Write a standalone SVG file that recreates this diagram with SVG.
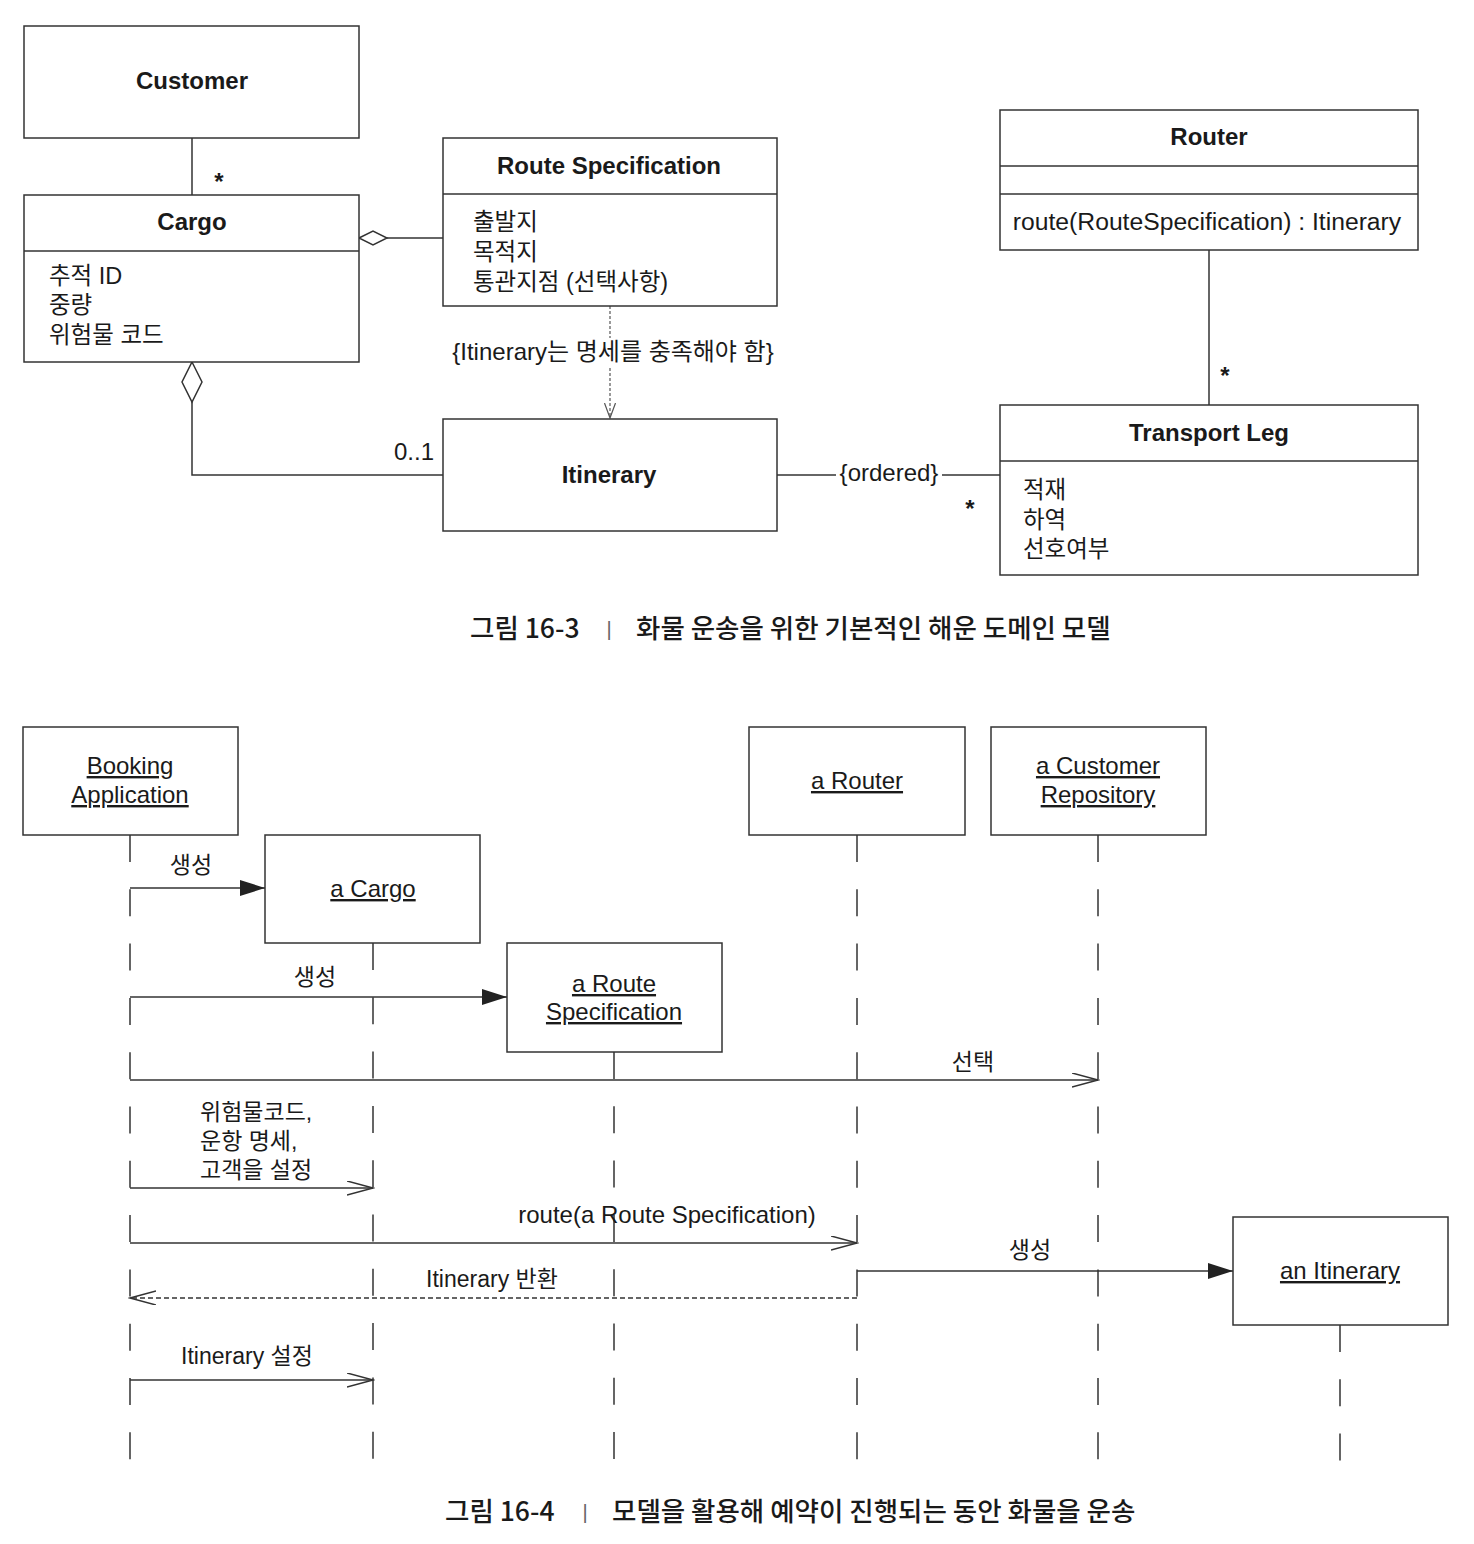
<svg xmlns="http://www.w3.org/2000/svg" width="1474" height="1544" viewBox="0 0 1474 1544">
<style>
  .box{fill:#fff;stroke:#333;stroke-width:1.5}
  .ln{fill:none;stroke:#333;stroke-width:1.5}
  .life{fill:none;stroke:#333;stroke-width:1.5;stroke-dasharray:27 27.3}
  .dash{fill:none;stroke:#333;stroke-width:1.3;stroke-dasharray:5 3}
  .dot{fill:none;stroke:#555;stroke-width:1.2;stroke-dasharray:3 2}
  text{font-family:"Liberation Sans","Noto Sans CJK KR",sans-serif;fill:#1a1a1a}
  .t{font-size:24px;font-weight:bold;text-anchor:middle}
  .a{font-size:23.5px}
  .m{font-size:24px}
  .k{font-size:23px}
  .c{text-anchor:middle}
  .u{text-decoration:underline}
  .cap{font-family:"Noto Sans CJK KR","Liberation Sans",sans-serif;font-size:26.5px;font-weight:500}
  .sep{font-family:"Liberation Sans",sans-serif;font-size:20px;fill:#666;text-anchor:middle}
</style>
<defs>
  <marker id="fill" markerUnits="userSpaceOnUse" markerWidth="26" markerHeight="18" refX="25" refY="8" orient="auto">
    <path d="M0,0 L25,8 L0,16 Z" fill="#222"/>
  </marker>
  <marker id="open" markerUnits="userSpaceOnUse" markerWidth="28" markerHeight="16" refX="26" refY="7" orient="auto">
    <path d="M0,0 L26,7 L0,14" fill="none" stroke="#333" stroke-width="1.5"/>
  </marker>
  <marker id="dep" markerUnits="userSpaceOnUse" markerWidth="17" markerHeight="12" refX="15" refY="5.5" orient="auto">
    <path d="M0,0 L15,5.5 L0,11" fill="none" stroke="#555" stroke-width="1.2"/>
  </marker>
</defs>

<!-- ===== Figure 16-3 ===== -->
<g id="connectors-class">
  <line class="ln" x1="192" y1="138" x2="192" y2="195"/>
  <text class="t" x="219" y="190">*</text>
  <path class="ln" d="M387,238 L443,238"/>
  <path class="box" d="M359,238 L373,231 L387,238 L373,245 Z"/>
  <path class="ln" d="M192,402 L192,475 L443,475"/>
  <path class="box" d="M192,362 L202,382 L192,402 L182,382 Z"/>
  <text class="m" x="434" y="460" text-anchor="end">0..1</text>
  <line class="dot" x1="610" y1="306" x2="610" y2="338"/>
  <line class="dot" x1="610" y1="368" x2="610" y2="418" marker-end="url(#dep)"/>
  <text class="c" x="613" y="360" style="font-size:24px">{Itinerary는 명세를 충족해야 함}</text>
  <line class="ln" x1="777" y1="475" x2="836" y2="475"/>
  <line class="ln" x1="942" y1="475" x2="1000" y2="475"/>
  <text class="m c" x="889" y="481">{ordered}</text>
  <text class="t" x="970" y="517">*</text>
  <line class="ln" x1="1209" y1="250" x2="1209" y2="405"/>
  <text class="t" x="1225" y="384">*</text>
</g>

<g id="customer">
  <rect class="box" x="24" y="26" width="335" height="112"/>
  <text class="t" x="192" y="89">Customer</text>
</g>
<g id="cargo">
  <rect class="box" x="24" y="195" width="335" height="167"/>
  <line class="ln" x1="24" y1="251" x2="359" y2="251"/>
  <text class="t" x="192" y="230">Cargo</text>
  <text class="a" x="49" y="284">추적 ID</text>
  <text class="a" x="49" y="313">중량</text>
  <text class="a" x="49" y="343">위험물 코드</text>
</g>
<g id="route-specification">
  <rect class="box" x="443" y="138" width="334" height="168"/>
  <line class="ln" x1="443" y1="194" x2="777" y2="194"/>
  <text class="t" x="609" y="174">Route Specification</text>
  <text class="a" x="473" y="230">출발지</text>
  <text class="a" x="473" y="260">목적지</text>
  <text class="a" x="473" y="290">통관지점 (선택사항)</text>
</g>
<g id="itinerary">
  <rect class="box" x="443" y="419" width="334" height="112"/>
  <text class="t" x="609" y="483">Itinerary</text>
</g>
<g id="router">
  <rect class="box" x="1000" y="110" width="418" height="140"/>
  <line class="ln" x1="1000" y1="166" x2="1418" y2="166"/>
  <line class="ln" x1="1000" y1="194" x2="1418" y2="194"/>
  <text class="t" x="1209" y="145">Router</text>
  <text class="c" x="1207" y="230" style="font-size:24.7px">route(RouteSpecification) : Itinerary</text>
</g>
<g id="transport-leg">
  <rect class="box" x="1000" y="405" width="418" height="170"/>
  <line class="ln" x1="1000" y1="461" x2="1418" y2="461"/>
  <text class="t" x="1209" y="441">Transport Leg</text>
  <text class="a" x="1023" y="498">적재</text>
  <text class="a" x="1023" y="528">하역</text>
  <text class="a" x="1023" y="557">선호여부</text>
</g>
<g id="caption-16-3">
  <text class="cap" x="470" y="638">그림 16-3</text>
  <text class="sep" x="609" y="636">|</text>
  <text class="cap" x="636" y="638">화물 운송을 위한 기본적인 해운 도메인 모델</text>
</g>

<!-- ===== Figure 16-4 ===== -->
<g id="lifelines">
  <line class="life" x1="130" y1="835" x2="130" y2="1462"/>
  <line class="life" x1="373" y1="943" x2="373" y2="1462"/>
  <line class="life" x1="614" y1="1052" x2="614" y2="1462"/>
  <line class="life" x1="857" y1="835" x2="857" y2="1462"/>
  <line class="life" x1="1098" y1="835" x2="1098" y2="1462"/>
  <line class="life" x1="1340" y1="1325" x2="1340" y2="1462"/>
</g>

<g id="connectors-seq">
  <line class="ln" x1="130" y1="888" x2="265" y2="888" marker-end="url(#fill)"/>
  <text class="k c" x="191" y="873">생성</text>
  <line class="ln" x1="130" y1="997" x2="507" y2="997" marker-end="url(#fill)"/>
  <text class="k c" x="315" y="985">생성</text>
  <line class="ln" x1="130" y1="1080" x2="1098" y2="1080" marker-end="url(#open)"/>
  <text class="k c" x="973" y="1070">선택</text>
  <line class="ln" x1="130" y1="1188" x2="373" y2="1188" marker-end="url(#open)"/>
  <text class="k" x="200" y="1120">위험물코드,</text>
  <text class="k" x="200" y="1149">운항 명세,</text>
  <text class="k" x="200" y="1178">고객을 설정</text>
  <line class="ln" x1="130" y1="1243" x2="857" y2="1243" marker-end="url(#open)"/>
  <text class="m c" x="667" y="1223">route(a Route Specification)</text>
  <line class="ln" x1="857" y1="1271" x2="1233" y2="1271" marker-end="url(#fill)"/>
  <text class="k c" x="1030" y="1258">생성</text>
  <line class="dash" x1="857" y1="1298" x2="130" y2="1298" marker-end="url(#open)"/>
  <text class="k c" x="492" y="1287">Itinerary 반환</text>
  <line class="ln" x1="130" y1="1380" x2="373" y2="1380" marker-end="url(#open)"/>
  <text class="k c" x="247" y="1364">Itinerary 설정</text>
</g>

<g id="booking-application">
  <rect class="box" x="23" y="727" width="215" height="108"/>
  <text class="m c u" x="130" y="774">Booking</text>
  <text class="m c u" x="130" y="803">Application</text>
</g>
<g id="a-cargo">
  <rect class="box" x="265" y="835" width="215" height="108"/>
  <text class="m c u" x="373" y="897">a Cargo</text>
</g>
<g id="a-route-specification">
  <rect class="box" x="507" y="943" width="215" height="109"/>
  <text class="m c u" x="614" y="992">a Route</text>
  <text class="m c u" x="614" y="1020">Specification</text>
</g>
<g id="a-router">
  <rect class="box" x="749" y="727" width="216" height="108"/>
  <text class="m c u" x="857" y="789">a Router</text>
</g>
<g id="a-customer-repository">
  <rect class="box" x="991" y="727" width="215" height="108"/>
  <text class="m c u" x="1098" y="774">a Customer</text>
  <text class="m c u" x="1098" y="803">Repository</text>
</g>
<g id="an-itinerary">
  <rect class="box" x="1233" y="1217" width="215" height="108"/>
  <text class="m c u" x="1340" y="1279">an Itinerary</text>
</g>
<g id="caption-16-4">
  <text class="cap" x="445" y="1521">그림 16-4</text>
  <text class="sep" x="585" y="1519">|</text>
  <text class="cap" x="612" y="1521">모델을 활용해 예약이 진행되는 동안 화물을 운송</text>
</g>
</svg>
